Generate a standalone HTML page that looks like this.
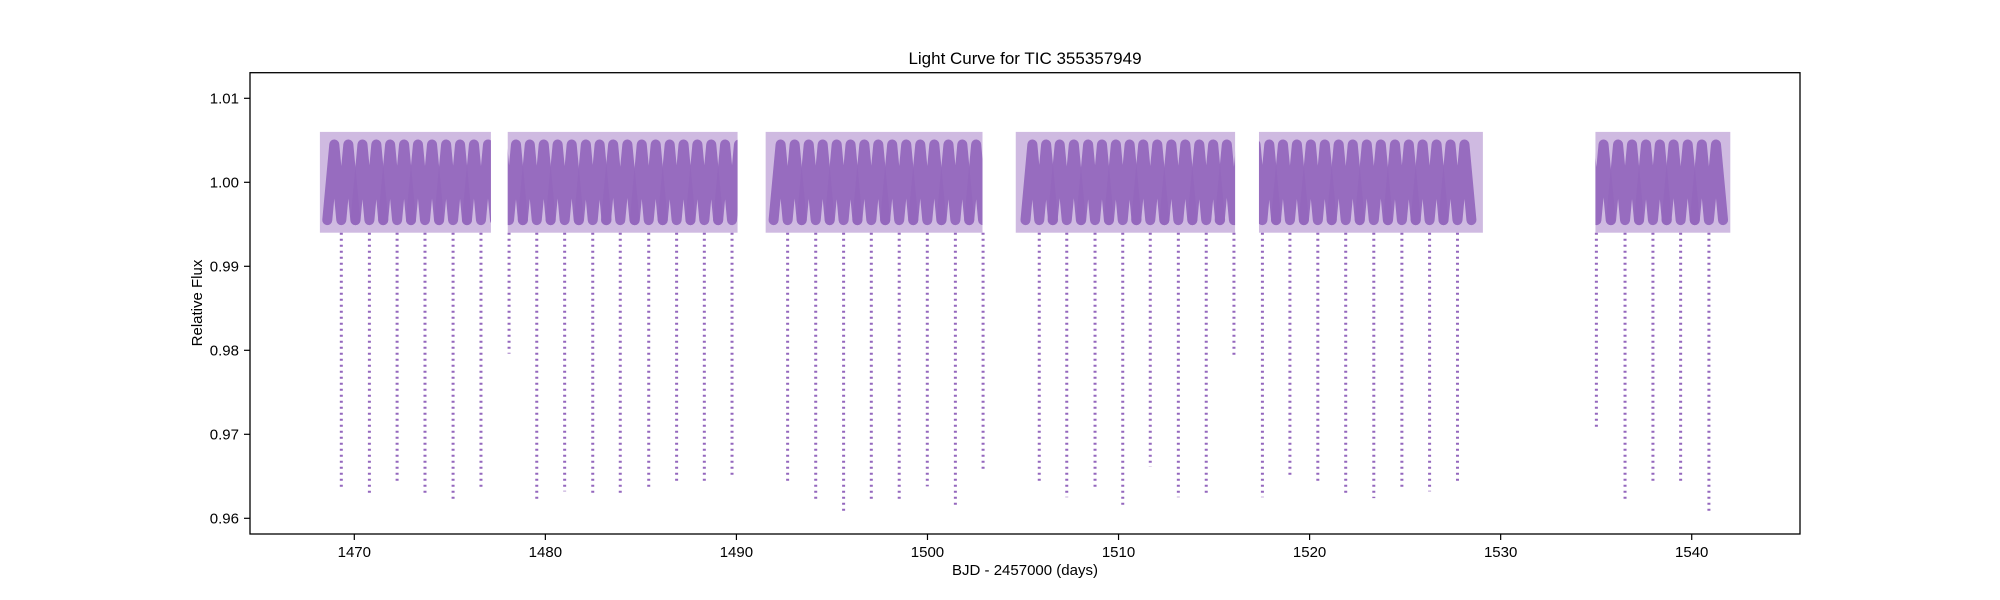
<!DOCTYPE html>
<html><head><meta charset="utf-8"><style>
body{margin:0;background:#fff;}
svg{display:block;font-family:"Liberation Sans","DejaVu Sans",sans-serif;}
</style></head><body>
<svg id="chart" width="2000" height="600" viewBox="0 0 2000 600">
<rect width="2000" height="600" fill="#fff"/>
<defs id="defs"></defs>
<g id="plot"></g>
<rect x="250" y="72.7" width="1550" height="461.3" fill="none" stroke="#000" stroke-width="1.3"/>
<g id="xaxis"></g><g id="yaxis"></g>
<text x="1025" y="64" text-anchor="middle" font-size="17">Light Curve for TIC 355357949</text>
<text x="1025" y="575" text-anchor="middle" font-size="15">BJD - 2457000 (days)</text>
<text transform="translate(202,303) rotate(-90)" text-anchor="middle" font-size="15">Relative Flux</text>
</svg>
<script>
const segStart=[1468.2,1478.03,1491.53,1504.62,1517.35,1534.96];
const segEnd=[1477.15,1490.06,1502.88,1516.1,1529.07,1542.02];
const eclipseTimes=[1469.32,1470.79,1472.24,1473.70,1475.17,1476.63,1478.10,1479.55,1481.01,1482.48,1483.92,1485.41,1486.87,1488.32,1489.77,
1492.68,1494.15,1495.61,1497.06,1498.52,1499.99,1501.46,1502.91,1505.85,1507.29,1508.77,1510.22,1511.66,1513.13,1514.59,1516.04,
1517.53,1518.97,1520.43,1521.89,1523.36,1524.83,1526.28,1527.74,1535.01,1536.51,1537.97,1539.42,1540.90];
const eclipseDepths=[0.9637,0.9626,0.9642,0.9628,0.9623,0.9637,0.9796,0.9622,0.9632,0.9628,0.9629,0.9635,0.9644,0.9642,0.9648,
0.9641,0.9620,0.9606,0.9622,0.9619,0.9638,0.9614,0.9658,0.9640,0.9625,0.9634,0.9612,0.9661,0.9625,0.9630,0.9794,
0.9625,0.9649,0.9640,0.9630,0.9624,0.9637,0.9632,0.9641,0.9709,0.9621,0.9642,0.9642,0.9607];
const oscPeak=1.0045;
const oscTrough=0.9955;
const bandOuter=[0.994,1.006];
const xTicks=[1470,1480,1490,1500,1510,1520,1530,1540];
const yTicks=[0.96,0.97,0.98,0.99,1.00,1.01];
const yTickLabels=["0.96","0.97","0.98","0.99","1.00","1.01"];

const NS="http://www.w3.org/2000/svg";
const X=d=>354.3+(d-1470)*19.106;
const Y=f=>182.3-(f-1.0)*8400;
const C="#9467bd";
function mk(tag,attrs,parent){const e=document.createElementNS(NS,tag);for(const k in attrs)e.setAttribute(k,attrs[k]);parent.appendChild(e);return e;}
const plot=document.getElementById('plot');
const defs=document.getElementById('defs');
segStart.forEach((s,i)=>{
  const cp=mk('clipPath',{id:'seg'+i},defs);
  mk('rect',{x:X(s),y:0,width:X(segEnd[i])-X(s),height:600},cp);
  const o=mk('rect',{x:X(s),y:Y(bandOuter[1]),width:X(segEnd[i])-X(s),height:Y(bandOuter[0])-Y(bandOuter[1]),fill:C,opacity:0.45},plot);
  
  
  const g=mk('g',{'clip-path':'url(#seg'+i+')'},plot);
  eclipseTimes.forEach((t,j)=>{
    if(t<s-1.5||t>segEnd[i]+1.5) return;
    const P=(j+1<eclipseTimes.length&&eclipseTimes[j+1]-t<1.7)?eclipseTimes[j+1]-t:(j>0&&t-eclipseTimes[j-1]<1.7?t-eclipseTimes[j-1]:1.46);
    const pts=[];
    for(let k=-2;k<=2;k++){pts.push(X(t+k*P/4)+','+Y(k%2===0?oscTrough:oscPeak));}
    const pl=mk('polyline',{points:pts.join(' '),fill:'none',stroke:C,'stroke-width':10,'stroke-linejoin':'round','stroke-linecap':'round',opacity:0.95},g);
    
    
  });
});
eclipseTimes.forEach((t,i)=>{
  const l=mk('line',{x1:X(t),x2:X(t),y1:Y(bandOuter[0]),y2:Y(eclipseDepths[i]),stroke:C,'stroke-width':3,'stroke-dasharray':'2 4'},plot);
  
  
});
const xa=document.getElementById('xaxis');
xTicks.forEach(v=>{
  const t=mk('line',{x1:X(v),x2:X(v),y1:534,y2:540,stroke:'#000','stroke-width':1.2},xa);
  
  
  const l=mk('text',{x:X(v),y:557,'text-anchor':'middle','font-size':15},xa);
  l.textContent=v;
  
  
});
const ya=document.getElementById('yaxis');
yTicks.forEach((v,i)=>{
  const t=mk('line',{x1:244,x2:250,y1:Y(v),y2:Y(v),stroke:'#000','stroke-width':1.2},ya);
  
  
  const l=mk('text',{x:239,y:Y(v)+5,'text-anchor':'end','font-size':15},ya);
  l.textContent=yTickLabels[i];
  
  
});
</script>
</body></html>
